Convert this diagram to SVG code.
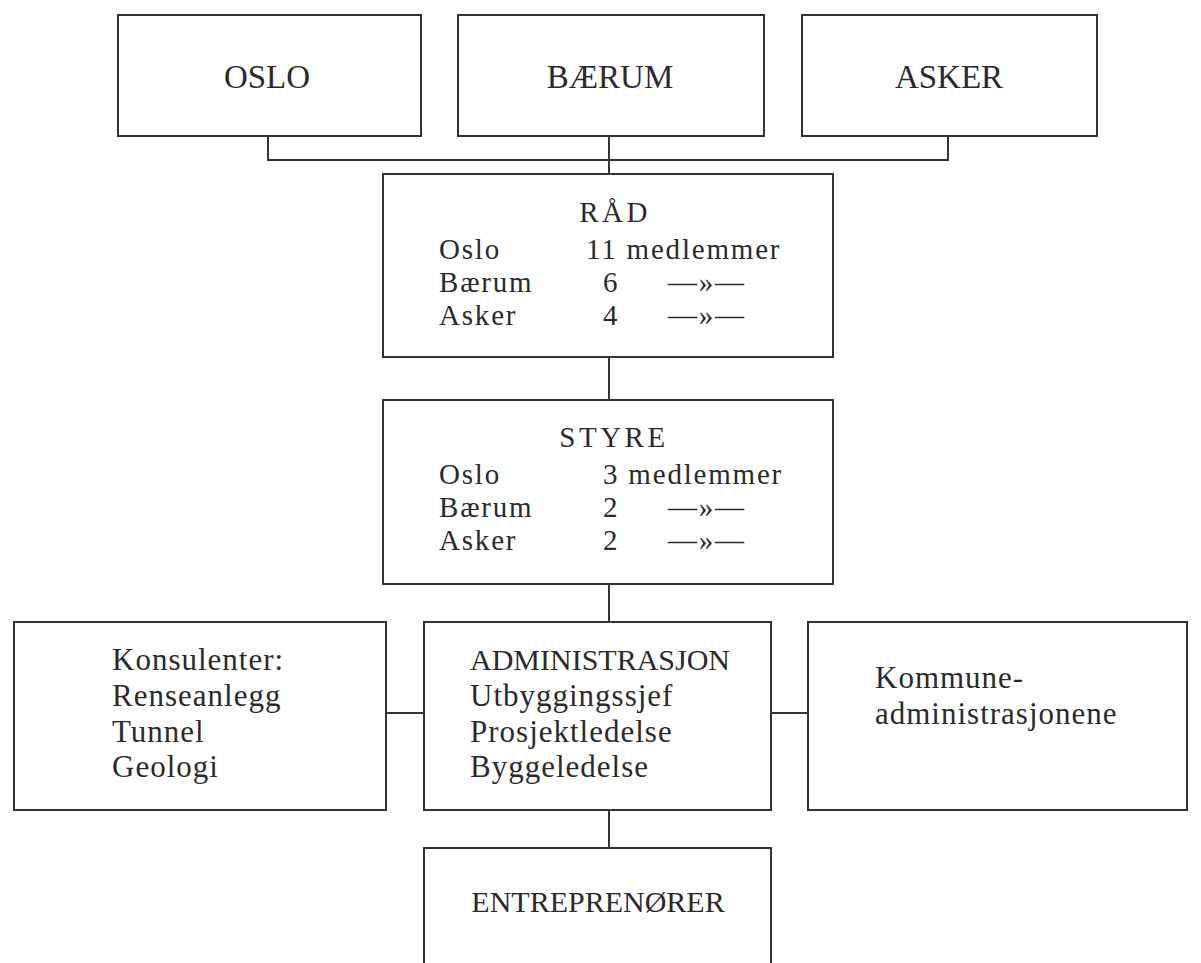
<svg xmlns="http://www.w3.org/2000/svg" width="1201" height="963" viewBox="0 0 1201 963">
<style>
.box{fill:none;stroke:#333;stroke-width:2}
.ln{fill:none;stroke:#333;stroke-width:2}
text{font-family:"Liberation Serif","Times New Roman",serif;fill:#2a2a2a;font-size:31px;letter-spacing:1px}
.top{font-size:33px;letter-spacing:0}
.ttl{font-size:29px;letter-spacing:3.5px}
.row{font-size:29px;letter-spacing:1.8px}
.caps{font-size:30px;letter-spacing:0}
.mid{text-anchor:middle}
</style>
<rect width="1201" height="963" fill="#fff"/>
<g id="connectors">
<path class="ln" d="M268,136 V160 H948 V136"/>
<path class="ln" d="M609,136 V174"/>
<path class="ln" d="M609,357 V400"/>
<path class="ln" d="M609,584 V622"/>
<path class="ln" d="M386,713 H424"/>
<path class="ln" d="M771,713 H808"/>
<path class="ln" d="M609,810 V848"/>
</g>
<g id="oslo"><rect class="box" x="118" y="15" width="303" height="121"/><text class="top mid" x="267" y="88">OSLO</text></g>
<g id="baerum"><rect class="box" x="458" y="15" width="306" height="121"/><text class="top mid" x="610" y="88">BÆRUM</text></g>
<g id="asker"><rect class="box" x="802" y="15" width="295" height="121"/><text class="top mid" x="949" y="88">ASKER</text></g>
<g id="raad"><rect class="box" x="383" y="174" width="450" height="183"/>
<text class="ttl mid" x="615" y="222">RÅD</text>
<text class="row" x="439" y="259">Oslo</text><text class="row" x="586" y="259">11 medlemmer</text>
<text class="row" x="439" y="292">Bærum</text><text class="row" x="603" y="292">6</text><text class="row" x="668" y="292">—»—</text>
<text class="row" x="439" y="325">Asker</text><text class="row" x="603" y="325">4</text><text class="row" x="668" y="325">—»—</text>
</g>
<g id="styre"><rect class="box" x="383" y="400" width="450" height="184"/>
<text class="ttl mid" x="614" y="447">STYRE</text>
<text class="row" x="439" y="484">Oslo</text><text class="row" x="603" y="484">3 medlemmer</text>
<text class="row" x="439" y="517">Bærum</text><text class="row" x="603" y="517">2</text><text class="row" x="668" y="517">—»—</text>
<text class="row" x="439" y="550">Asker</text><text class="row" x="603" y="550">2</text><text class="row" x="668" y="550">—»—</text>
</g>
<g id="konsulenter"><rect class="box" x="14" y="622" width="372" height="188"/>
<text x="112" y="670">Konsulenter:</text>
<text x="112" y="706">Renseanlegg</text>
<text x="112" y="742">Tunnel</text>
<text x="112" y="777">Geologi</text>
</g>
<g id="administrasjon"><rect class="box" x="424" y="622" width="347" height="188"/>
<text class="caps" x="470" y="670">ADMINISTRASJON</text>
<text x="470" y="706">Utbyggingssjef</text>
<text x="470" y="742">Prosjektledelse</text>
<text x="470" y="777">Byggeledelse</text>
</g>
<g id="kommune"><rect class="box" x="808" y="622" width="379" height="188"/>
<text x="875" y="688">Kommune-</text>
<text x="875" y="724">administrasjonene</text>
</g>
<g id="entreprenorer"><rect class="box" x="424" y="848" width="347" height="130"/>
<text class="caps mid" x="598" y="912">ENTREPRENØRER</text>
</g>
</svg>
